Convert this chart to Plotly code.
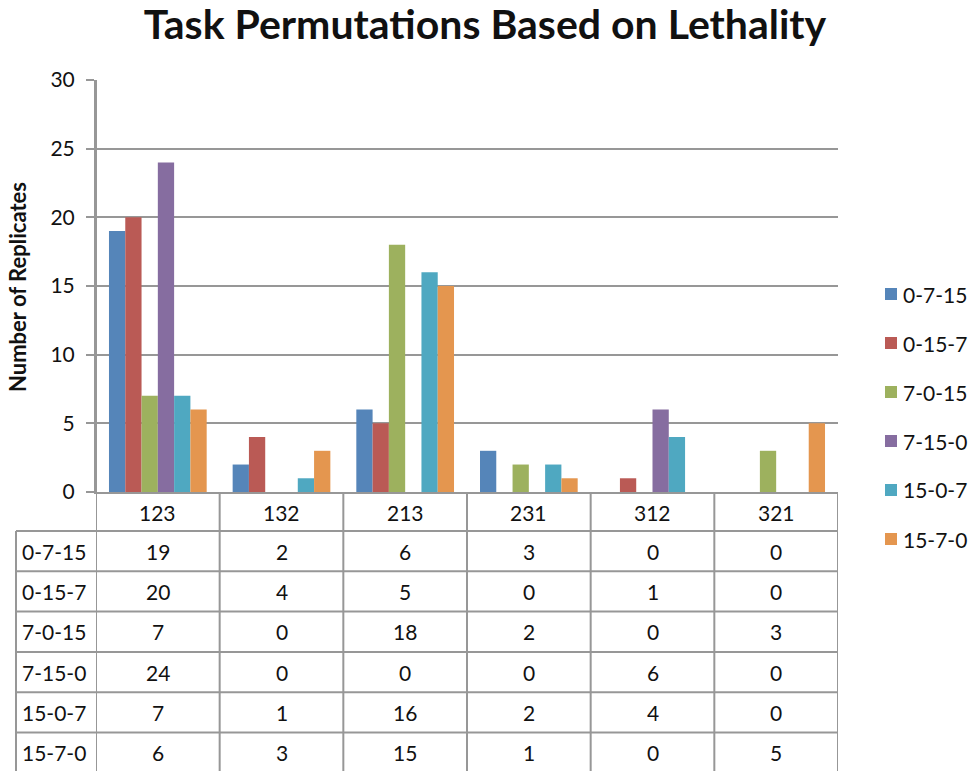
import plotly.graph_objects as go

# data
categories = ['123', '132', '213', '231', '312', '321']
series_names = ['0-7-15', '0-15-7', '7-0-15', '7-15-0', '15-0-7', '15-7-0']
s_0_7_15 = [19, 2, 6, 3, 0, 0]
s_0_15_7 = [20, 4, 5, 0, 1, 0]
s_7_0_15 = [7, 0, 18, 2, 0, 3]
s_7_15_0 = [24, 0, 0, 0, 6, 0]
s_15_0_7 = [7, 1, 16, 2, 4, 0]
s_15_7_0 = [6, 3, 15, 1, 0, 5]
all_series = [s_0_7_15, s_0_15_7, s_7_0_15, s_7_15_0, s_15_0_7, s_15_7_0]

colors = ['#5585B9', '#BA5A55', '#9DB15E', '#866DA0', '#4FA8C1', '#E4964F']

W, H = 972, 771
FONT = 'Lato'
LINE = '#979797'
TXT = '#111111'


def px(x):
    return x / W


def py(y):
    return 1 - y / H


# plot box in pixels
left, right, top, bottom = 96, 838, 80, 492
table_left = 16
header_h = 39
row_h = 40.3
fs = 21

fig = go.Figure()
for name, vals, c in zip(series_names, all_series, colors):
    fig.add_trace(go.Bar(x=categories, y=vals, name=name, marker_color=c,
                         marker_line_width=0, showlegend=False, hoverinfo='skip'))

shapes = []
annotations = []

# table horizontal lines
for i in range(len(series_names)):
    yy = bottom + header_h + i * row_h
    shapes.append(dict(type='line', xref='paper', yref='paper',
                       x0=px(table_left), x1=px(right), y0=py(yy), y1=py(yy),
                       line=dict(color=LINE, width=2)))
# left edge of row-label column
shapes.append(dict(type='line', xref='paper', yref='paper',
                   x0=px(table_left), x1=px(table_left),
                   y0=py(bottom + header_h), y1=0, line=dict(color=LINE, width=2)))
# column separators
for i in range(len(categories) + 1):
    y_start = top if i == 0 else bottom
    shapes.append(dict(type='line', xref='x', yref='paper',
                       x0=i - 0.5, x1=i - 0.5, y0=py(y_start), y1=0,
                       line=dict(color=LINE, width=2)))

# header (category labels)
for j, cat in enumerate(categories):
    annotations.append(dict(x=j, y=py(bottom + header_h / 2 + 1), xref='x', yref='paper',
                            xanchor='center', yanchor='middle',
                            text=cat, showarrow=False, font=dict(size=fs, color=TXT)))

# rows
for i, (name, vals) in enumerate(zip(series_names, all_series)):
    yc = py(bottom + header_h + (i + 0.5) * row_h)
    annotations.append(dict(x=px(table_left + 4), y=yc, xref='paper', yref='paper',
                            xanchor='left', yanchor='middle', text=name, showarrow=False,
                            font=dict(size=fs, color=TXT)))
    for j, v in enumerate(vals):
        annotations.append(dict(x=j, y=yc, xref='x', yref='paper', text=str(v),
                                xanchor='center', yanchor='middle',
                                showarrow=False, font=dict(size=fs, color=TXT)))

# legend drawn by hand
leg_y0, leg_step = 294, 49
for i, (name, c) in enumerate(zip(series_names, colors)):
    yc = leg_y0 + i * leg_step
    shapes.append(dict(type='rect', xref='paper', yref='paper',
                       x0=px(885), x1=px(897), y0=py(yc - 6), y1=py(yc + 6),
                       fillcolor=c, line=dict(width=0)))
    annotations.append(dict(x=px(901), y=py(yc), xref='paper', yref='paper',
                            xanchor='left', yanchor='middle', text=name,
                            showarrow=False, font=dict(size=fs, color=TXT)))

# y axis title
annotations.append(dict(x=px(17), y=py(287), xref='paper', yref='paper',
                        xanchor='center', yanchor='middle',
                        text='<b>Number of Replicates</b>', textangle=-90,
                        showarrow=False, font=dict(size=22, color=TXT)))

fig.update_layout(
    width=W, height=H, autosize=False,
    margin=dict(l=0, r=0, t=0, b=0),
    paper_bgcolor='white', plot_bgcolor='white',
    font=dict(family=FONT, color=TXT),
    title=dict(text='<b>Task Permutations Based on Lethality</b>',
               x=px(485), xanchor='center', xref='paper',
               y=py(25), yref='container', yanchor='middle',
               font=dict(size=41, family=FONT, color=TXT)),
    barmode='group', bargap=0.21, bargroupgap=0,
    showlegend=False, hovermode=False,
    xaxis=dict(domain=[px(left), px(right)], range=[-0.5, 5.5], automargin=False,
               showticklabels=False, showgrid=False, showline=True,
               linecolor=LINE, linewidth=2, ticks='', zeroline=False),
    yaxis=dict(domain=[py(bottom), py(top)], range=[0, 30], dtick=5, automargin=False,
               showgrid=True, gridcolor=LINE, gridwidth=2,
               showline=True, linecolor=LINE, linewidth=2,
               ticks='outside', ticklen=8, tickcolor=LINE, tickwidth=2,
               ticklabelstandoff=7,
               tickfont=dict(size=fs, color=TXT), zeroline=False),
    shapes=shapes, annotations=annotations,
)

# drop the default 8px body margin so the figure fills the window
fig.write_html('out.html', config={'displayModeBar': False},
               post_script="document.body.style.margin='0';")
